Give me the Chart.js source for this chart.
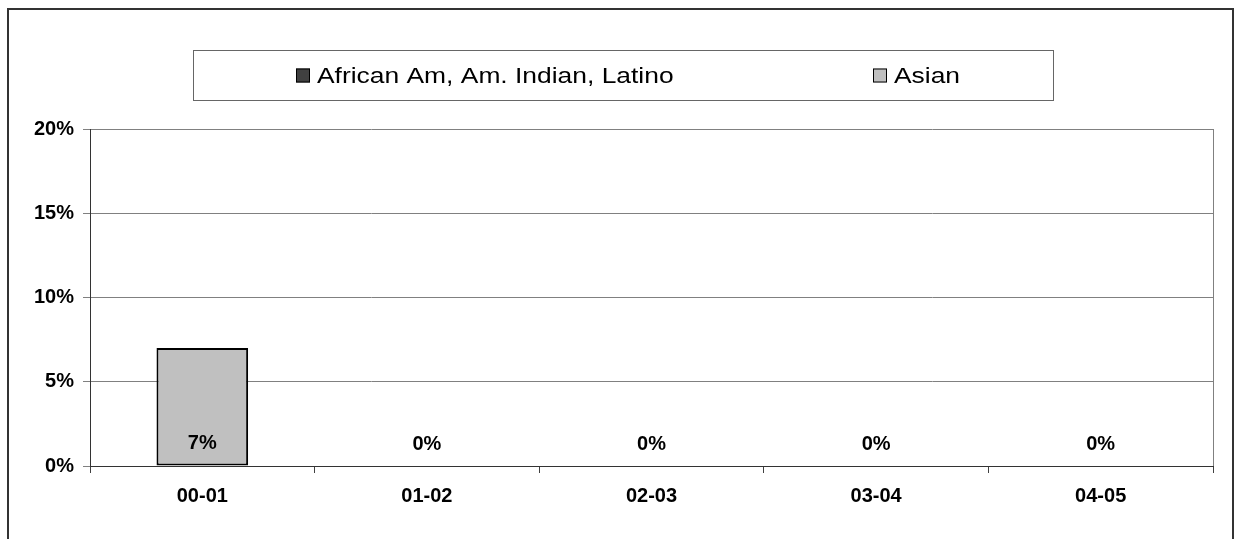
<!DOCTYPE html>
<html>
<head>
<meta charset="utf-8">
<script src="https://cdn.jsdelivr.net/npm/chart.js@4/dist/chart.umd.min.js"></script>
<style>
  html, body { margin: 0; padding: 0; background: #fff; }
  #wrap { width: 1235px; height: 539px; position: relative; }
</style>
</head>
<body>
<div id="wrap"><canvas id="chart"></canvas></div>
<script>
// chart data
const categories = ["00-01", "01-02", "02-03", "03-04", "04-05"];
const seriesNames = ["African Am, Am. Indian, Latino", "Asian"];
const minorityValues = [0, 0, 0, 0, 0];
const asianValues = [7, 0, 0, 0, 0];
const yMin = 0;
const yMax = 20;
const yStep = 5;

const FONT = "'Liberation Sans', Arial, sans-serif";
const seriesColors = ["#404040", "#c0c0c0"];

// legend box + frame
const legendBox = { x: 193.5, y: 50.5, w: 860, h: 50 };
const legendItemX = [296, 873];

const framePlugin = {
    id: "frame",
    beforeDraw(chart) {
        const ctx = chart.ctx;
        ctx.save();
        ctx.fillStyle = "#fff";
        ctx.fillRect(0, 0, chart.width, chart.height);
        ctx.strokeStyle = "#333";
        ctx.lineWidth = 2;
        ctx.strokeRect(8, 9, 1225, 560);
        ctx.restore();
    },
    afterDraw(chart) {
        const ctx = chart.ctx;
        const area = chart.chartArea;

        // right edge of plot area
        ctx.save();
        ctx.strokeStyle = "#808080";
        ctx.lineWidth = 1;
        ctx.beginPath();
        ctx.moveTo(Math.round(area.right) + 0.5, area.top);
        ctx.lineTo(Math.round(area.right) + 0.5, area.bottom);
        ctx.stroke();

        // legend
        ctx.strokeStyle = "#666";
        ctx.strokeRect(legendBox.x, legendBox.y, legendBox.w, legendBox.h);
        const cy = legendBox.y + legendBox.h / 2;
        chart.data.datasets.forEach((ds, i) => {
            const x = legendItemX[i];
            ctx.fillStyle = ds.backgroundColor;
            ctx.fillRect(x, cy - 7, 14, 14);
            ctx.strokeStyle = "#000";
            ctx.strokeRect(x + 0.5, cy - 6.5, 13, 13);
            ctx.save();
            ctx.translate(x + 21, cy);
            ctx.scale(1.2, 1);
            ctx.fillStyle = "#000";
            ctx.font = "22px " + FONT;
            ctx.textBaseline = "middle";
            ctx.textAlign = "left";
            ctx.fillText(ds.label, 0, 1);
            ctx.restore();
        });
        ctx.restore();
    },
    afterDatasetsDraw(chart) {
        // value labels at the base of the Asian bars
        const ctx = chart.ctx;
        const meta = chart.getDatasetMeta(1);
        const data = chart.data.datasets[1].data;
        ctx.save();
        ctx.fillStyle = "#000";
        ctx.font = "bold 20px " + FONT;
        ctx.textAlign = "center";
        ctx.textBaseline = "middle";
        meta.data.forEach((bar, i) => {
            ctx.fillText(Math.round(data[i]) + "%", bar.x, bar.base - 22);
        });
        ctx.restore();
    }
};

new Chart(document.getElementById("chart").getContext("2d"), {
    type: "bar",
    data: {
        labels: categories,
        datasets: [
            {
                label: seriesNames[0],
                data: minorityValues,
                backgroundColor: seriesColors[0],
                borderColor: "#000",
                borderWidth: 2,
                borderSkipped: false
            },
            {
                label: seriesNames[1],
                data: asianValues,
                backgroundColor: seriesColors[1],
                borderColor: "#000",
                borderWidth: 2,
                borderSkipped: false
            }
        ]
    },
    options: {
        responsive: true,
        maintainAspectRatio: false,
        animation: false,
        devicePixelRatio: 1,
        categoryPercentage: 0.8,
        barPercentage: 0.51,
        layout: { padding: { top: 129, right: 22, bottom: 0, left: 0 } },
        plugins: {
            legend: { display: false },
            tooltip: { enabled: false }
        },
        scales: {
            x: {
                stacked: true,
                grid: {
                    offset: true,
                    drawOnChartArea: false,
                    drawTicks: true,
                    tickLength: 7,
                    color: "#404040"
                },
                border: { color: "#333", width: 1 },
                ticks: {
                    color: "#000",
                    padding: 11,
                    font: { family: FONT, size: 20, weight: "bold" }
                },
                afterFit(scale) { scale.height = 73; }
            },
            y: {
                stacked: true,
                min: yMin,
                max: yMax,
                grid: {
                    color: "#808080",
                    tickLength: 7,
                    tickColor: "#808080"
                },
                border: { color: "#333", width: 1 },
                ticks: {
                    stepSize: yStep,
                    color: "#000",
                    padding: 9,
                    font: { family: FONT, size: 20, weight: "bold" },
                    callback: v => v + "%"
                },
                afterFit(scale) { scale.width = 90; }
            }
        }
    },
    plugins: [framePlugin]
});
</script>
</body>
</html>
